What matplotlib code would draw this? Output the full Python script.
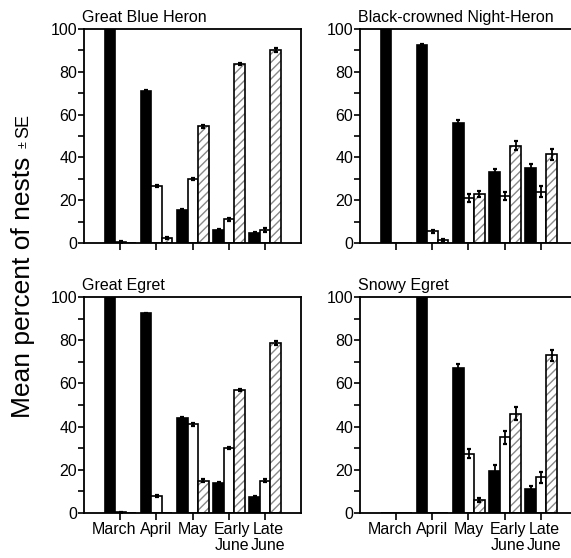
import numpy as np
import matplotlib
matplotlib.use("Agg")
import matplotlib.pyplot as plt
from matplotlib.ticker import MultipleLocator

plt.rcParams['font.family'] = ['Liberation Sans', 'DejaVu Sans']
plt.rcParams['hatch.linewidth'] = 1.0

periods = ["March", "April", "May", "Early\nJune", "Late\nJune"]
species = ["Great Blue Heron", "Black-crowned Night-Heron", "Great Egret", "Snowy Egret"]

# series: black, white, hatched (mean percent of nests)
gbh_black = [100, 71, 15.5, 6, 4.5]
gbh_white = [0.5, 26.5, 30, 11, 6]
gbh_hatch = [0, 2.5, 54.5, 83.5, 90]
gbh_black_se = [0, 0.5, 0.5, 0.5, 0.6]
gbh_white_se = [0.4, 0.5, 0.6, 0.6, 0.8]
gbh_hatch_se = [0, 0.5, 0.6, 0.5, 0.9]

bcnh_black = [100, 92.5, 56, 33, 35]
bcnh_white = [0, 5.5, 21, 22, 24]
bcnh_hatch = [0, 1.5, 23, 45.5, 41.5]
bcnh_black_se = [0, 0.3, 1.5, 1.5, 2]
bcnh_white_se = [0, 0.6, 2, 2, 2.5]
bcnh_hatch_se = [0, 0.5, 1.5, 2, 2.5]

ge_black = [100, 92.5, 44, 14, 7.5]
ge_white = [0.3, 8, 41, 30, 15]
ge_hatch = [0, 0, 15, 57, 78.5]
ge_black_se = [0, 0.3, 0.6, 0.4, 0.5]
ge_white_se = [0.3, 0.4, 0.6, 0.6, 0.7]
ge_hatch_se = [0, 0, 0.6, 0.6, 0.9]

se_black = [0, 100, 67, 19.5, 11]
se_white = [0, 0, 27.5, 35, 16.5]
se_hatch = [0, 0, 6, 46, 73]
se_black_se = [0, 0, 2, 2.5, 1.5]
se_white_se = [0, 0, 2, 3, 2.5]
se_hatch_se = [0, 0, 1, 3, 2.5]

yticks = [0, 20, 40, 60, 80, 100]

panels = [
    (gbh_black, gbh_white, gbh_hatch, gbh_black_se, gbh_white_se, gbh_hatch_se),
    (bcnh_black, bcnh_white, bcnh_hatch, bcnh_black_se, bcnh_white_se, bcnh_hatch_se),
    (ge_black, ge_white, ge_hatch, ge_black_se, ge_white_se, ge_hatch_se),
    (se_black, se_white, se_hatch, se_black_se, se_white_se, se_hatch_se),
]

W, H = 571, 558
fig = plt.figure(figsize=(W / 100, H / 100), dpi=100)


def rect(left, top, right, bottom):
    return [left / W, 1 - bottom / H, (right - left) / W, (bottom - top) / H]


rects = [rect(84, 29, 301, 243), rect(360, 29, 577, 243),
         rect(84, 297, 301, 513), rect(360, 297, 577, 513)]

width = 0.29
offsets = [-0.28, 0.01, 0.30]
x = np.arange(len(periods))
label_shift = [-0.17, 0, 0, 0.1, 0.1]

for i, (r, name, data) in enumerate(zip(rects, species, panels)):
    ax = fig.add_axes(r)
    b, w, h, be, we, he = data
    ax.bar(x + offsets[0], b, width, color='black', edgecolor='black', linewidth=1.2, zorder=2)
    ax.bar(x + offsets[1], w, width, color='white', edgecolor='black', linewidth=1.2, zorder=2)
    ax.bar(x + offsets[2], h, width, color='white', edgecolor='#8a8a8a', hatch='////',
           linewidth=0, zorder=2)
    ax.bar(x + offsets[2], h, width, fill=False, edgecolor='black', linewidth=1.2, zorder=3)
    for off, vals, errs in zip(offsets, (b, w, h), (be, we, he)):
        vals = np.array(vals, float)
        errs = np.array(errs, float)
        m = errs > 0
        if m.any():
            ax.errorbar(x[m] + off, vals[m], yerr=errs[m], fmt='none', ecolor='black',
                        elinewidth=1.3, capsize=1.5, capthick=1.6, zorder=4)
    ax.set_xlim(-1, 5)
    ax.set_ylim(0, 100)
    ax.set_yticks(yticks)
    ax.yaxis.set_minor_locator(MultipleLocator(10))
    ax.set_xticks(x)
    ax.set_xticklabels([])
    if i >= 2:
        for xi, lab, dx in zip(x, periods, label_shift):
            ax.annotate(lab, xy=(xi + dx, 0), xycoords=('data', 'axes fraction'),
                        xytext=(0, -6.5), textcoords='offset points',
                        ha='center', va='top', fontsize=11.5, linespacing=1.05,
                        annotation_clip=False)
    ax.tick_params(axis='y', which='both', direction='out', length=4, width=1.2,
                   labelsize=11.5, pad=1)
    ax.tick_params(axis='x', which='both', direction='out', length=5, width=1.2, pad=2)
    for s in ax.spines.values():
        s.set_linewidth(1.3)
    ax.set_title(name, loc='left', fontsize=11.5, pad=5, x=-0.01)

# y label with smaller "± SE"
fs_main = 19
t1 = fig.text(30 / W, 1 - 418 / H, "Mean percent of nests", rotation=90,
              rotation_mode='anchor', ha='left', va='baseline', fontsize=fs_main)
fig.canvas.draw()
ext = t1.get_window_extent()
y_pm = ext.y1 + 9
t2 = fig.text(27 / W, y_pm / H, "\u00b1", rotation=90, rotation_mode='anchor',
              ha='left', va='baseline', fontsize=9)
fig.canvas.draw()
ext2 = t2.get_window_extent()
fig.text(28 / W, (ext2.y1 + 3) / H, "SE", rotation=90, rotation_mode='anchor',
         ha='left', va='baseline', fontsize=13)

fig.savefig("out.png", dpi=100)
